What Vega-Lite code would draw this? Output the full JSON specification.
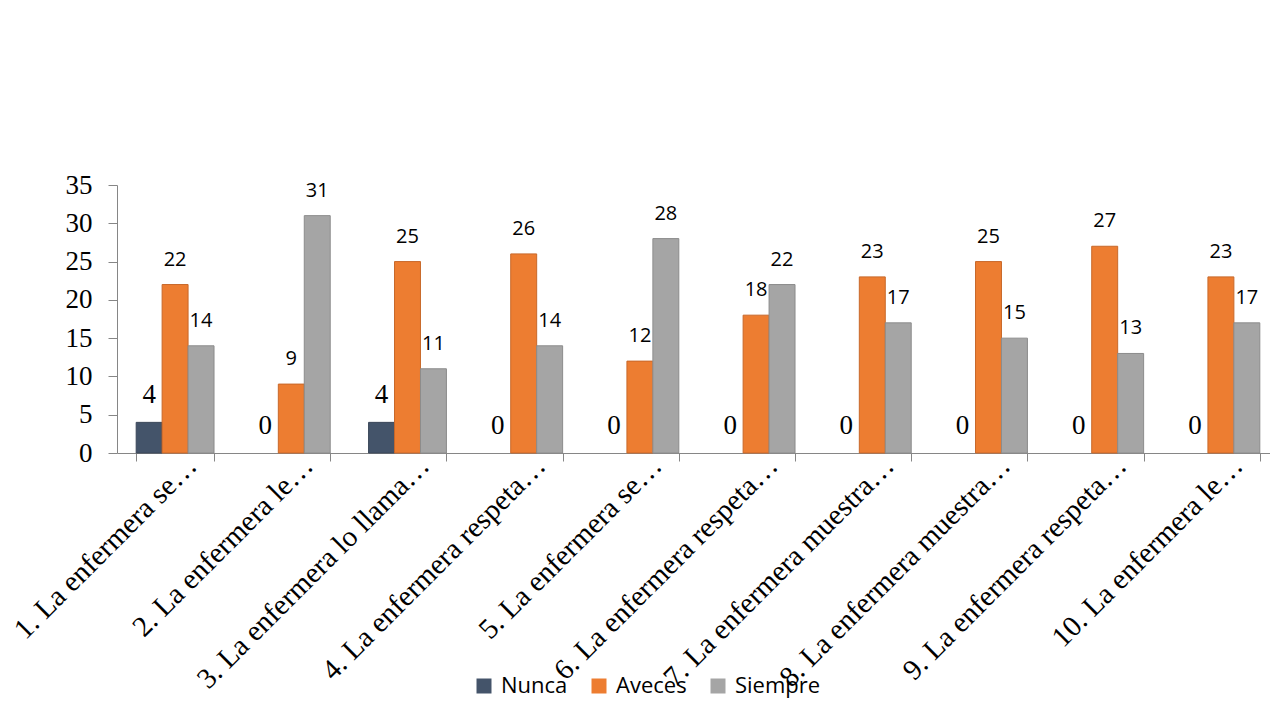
{
  "$schema": "https://vega.github.io/schema/vega-lite/v6.json",
  "width": 1153,
  "height": 268,
  "autosize": "none",
  "padding": {"left": 117, "top": 185, "right": 0, "bottom": 262},
  "background": "white",
  "config": {
    "view": {"stroke": null},
    "axis": {"domainColor": "#868686", "tickColor": "#868686", "labelColor": "#000000", "grid": false}
  },
  "data": {
    "values": [
      {"item": "1. La enfermera se…", "serie": "Nunca", "n": 4},
      {"item": "1. La enfermera se…", "serie": "Aveces", "n": 22},
      {"item": "1. La enfermera se…", "serie": "Siempre", "n": 14},
      {"item": "2. La enfermera le…", "serie": "Nunca", "n": 0},
      {"item": "2. La enfermera le…", "serie": "Aveces", "n": 9},
      {"item": "2. La enfermera le…", "serie": "Siempre", "n": 31},
      {"item": "3. La enfermera lo llama…", "serie": "Nunca", "n": 4},
      {"item": "3. La enfermera lo llama…", "serie": "Aveces", "n": 25},
      {"item": "3. La enfermera lo llama…", "serie": "Siempre", "n": 11},
      {"item": "4. La enfermera respeta…", "serie": "Nunca", "n": 0},
      {"item": "4. La enfermera respeta…", "serie": "Aveces", "n": 26},
      {"item": "4. La enfermera respeta…", "serie": "Siempre", "n": 14},
      {"item": "5. La enfermera se…", "serie": "Nunca", "n": 0},
      {"item": "5. La enfermera se…", "serie": "Aveces", "n": 12},
      {"item": "5. La enfermera se…", "serie": "Siempre", "n": 28},
      {"item": "6. La enfermera respeta…", "serie": "Nunca", "n": 0},
      {"item": "6. La enfermera respeta…", "serie": "Aveces", "n": 18},
      {"item": "6. La enfermera respeta…", "serie": "Siempre", "n": 22},
      {"item": "7. La enfermera muestra…", "serie": "Nunca", "n": 0},
      {"item": "7. La enfermera muestra…", "serie": "Aveces", "n": 23},
      {"item": "7. La enfermera muestra…", "serie": "Siempre", "n": 17},
      {"item": "8. La enfermera muestra…", "serie": "Nunca", "n": 0},
      {"item": "8. La enfermera muestra…", "serie": "Aveces", "n": 25},
      {"item": "8. La enfermera muestra…", "serie": "Siempre", "n": 15},
      {"item": "9. La enfermera respeta…", "serie": "Nunca", "n": 0},
      {"item": "9. La enfermera respeta…", "serie": "Aveces", "n": 27},
      {"item": "9. La enfermera respeta…", "serie": "Siempre", "n": 13},
      {"item": "10. La enfermera le…", "serie": "Nunca", "n": 0},
      {"item": "10. La enfermera le…", "serie": "Aveces", "n": 23},
      {"item": "10. La enfermera le…", "serie": "Siempre", "n": 17}
    ]
  },
  "encoding": {
    "x": {
      "field": "item",
      "type": "nominal",
      "sort": null,
      "scale": {"range": [0, 1162], "paddingInner": 0.33, "paddingOuter": 0.165},
      "axis": {
        "title": null,
        "tickBand": "extent",
        "tickSize": 8,
        "labelAngle": -45,
        "labelAlign": "right",
        "labelBaseline": "alphabetic",
        "labelOffset": 23,
        "labelPadding": 6,
        "labelFont": "Liberation Serif",
        "labelFontSize": 29,
        "labelLimit": 0,
        "labelOverlap": false
      }
    },
    "xOffset": {"field": "serie", "type": "nominal", "sort": ["Nunca", "Aveces", "Siempre"]},
    "y": {
      "field": "n",
      "type": "quantitative",
      "scale": {"domain": [0, 35], "nice": false},
      "axis": {
        "title": null,
        "values": [0, 5, 10, 15, 20, 25, 30, 35],
        "tickSize": 9,
        "labelPadding": 16,
        "labelFont": "Liberation Serif",
        "labelFontSize": 27
      }
    }
  },
  "layer": [
    {
      "mark": {"type": "bar", "strokeWidth": 1},
      "encoding": {
        "color": {
          "field": "serie",
          "type": "nominal",
          "sort": ["Nunca", "Aveces", "Siempre"],
          "scale": {"domain": ["Nunca", "Aveces", "Siempre"], "range": ["#44546A", "#ED7D31", "#A5A5A5"]},
          "legend": {
            "title": null,
            "orient": "none",
            "legendX": 356,
            "legendY": 490,
            "direction": "horizontal",
            "padding": 0,
            "symbolType": "square",
            "symbolSize": 225,
            "symbolStrokeWidth": 0,
            "labelFont": "Open Sans",
            "labelFontSize": 22,
            "labelColor": "#000000",
            "labelOffset": 6,
            "columnPadding": 20
          }
        },
        "stroke": {
          "field": "serie",
          "type": "nominal",
          "scale": {"domain": ["Nunca", "Aveces", "Siempre"], "range": ["#3A4759", "#C8682A", "#8C8C8C"]},
          "legend": null
        },
        "strokeOpacity": {"condition": {"test": "datum.n === 0", "value": 0}, "value": 1}
      }
    },
    {
      "transform": [{"filter": "datum.serie === 'Nunca'"}],
      "mark": {"type": "text", "font": "Liberation Serif", "fontSize": 27, "baseline": "alphabetic", "dy": -19, "color": "#000000"},
      "encoding": {"text": {"field": "n", "type": "quantitative"}}
    },
    {
      "transform": [{"filter": "datum.serie !== 'Nunca'"}],
      "mark": {"type": "text", "font": "Open Sans", "fontSize": 20, "baseline": "alphabetic", "dy": -19, "color": "#000000"},
      "encoding": {"text": {"field": "n", "type": "quantitative"}}
    }
  ]
}
